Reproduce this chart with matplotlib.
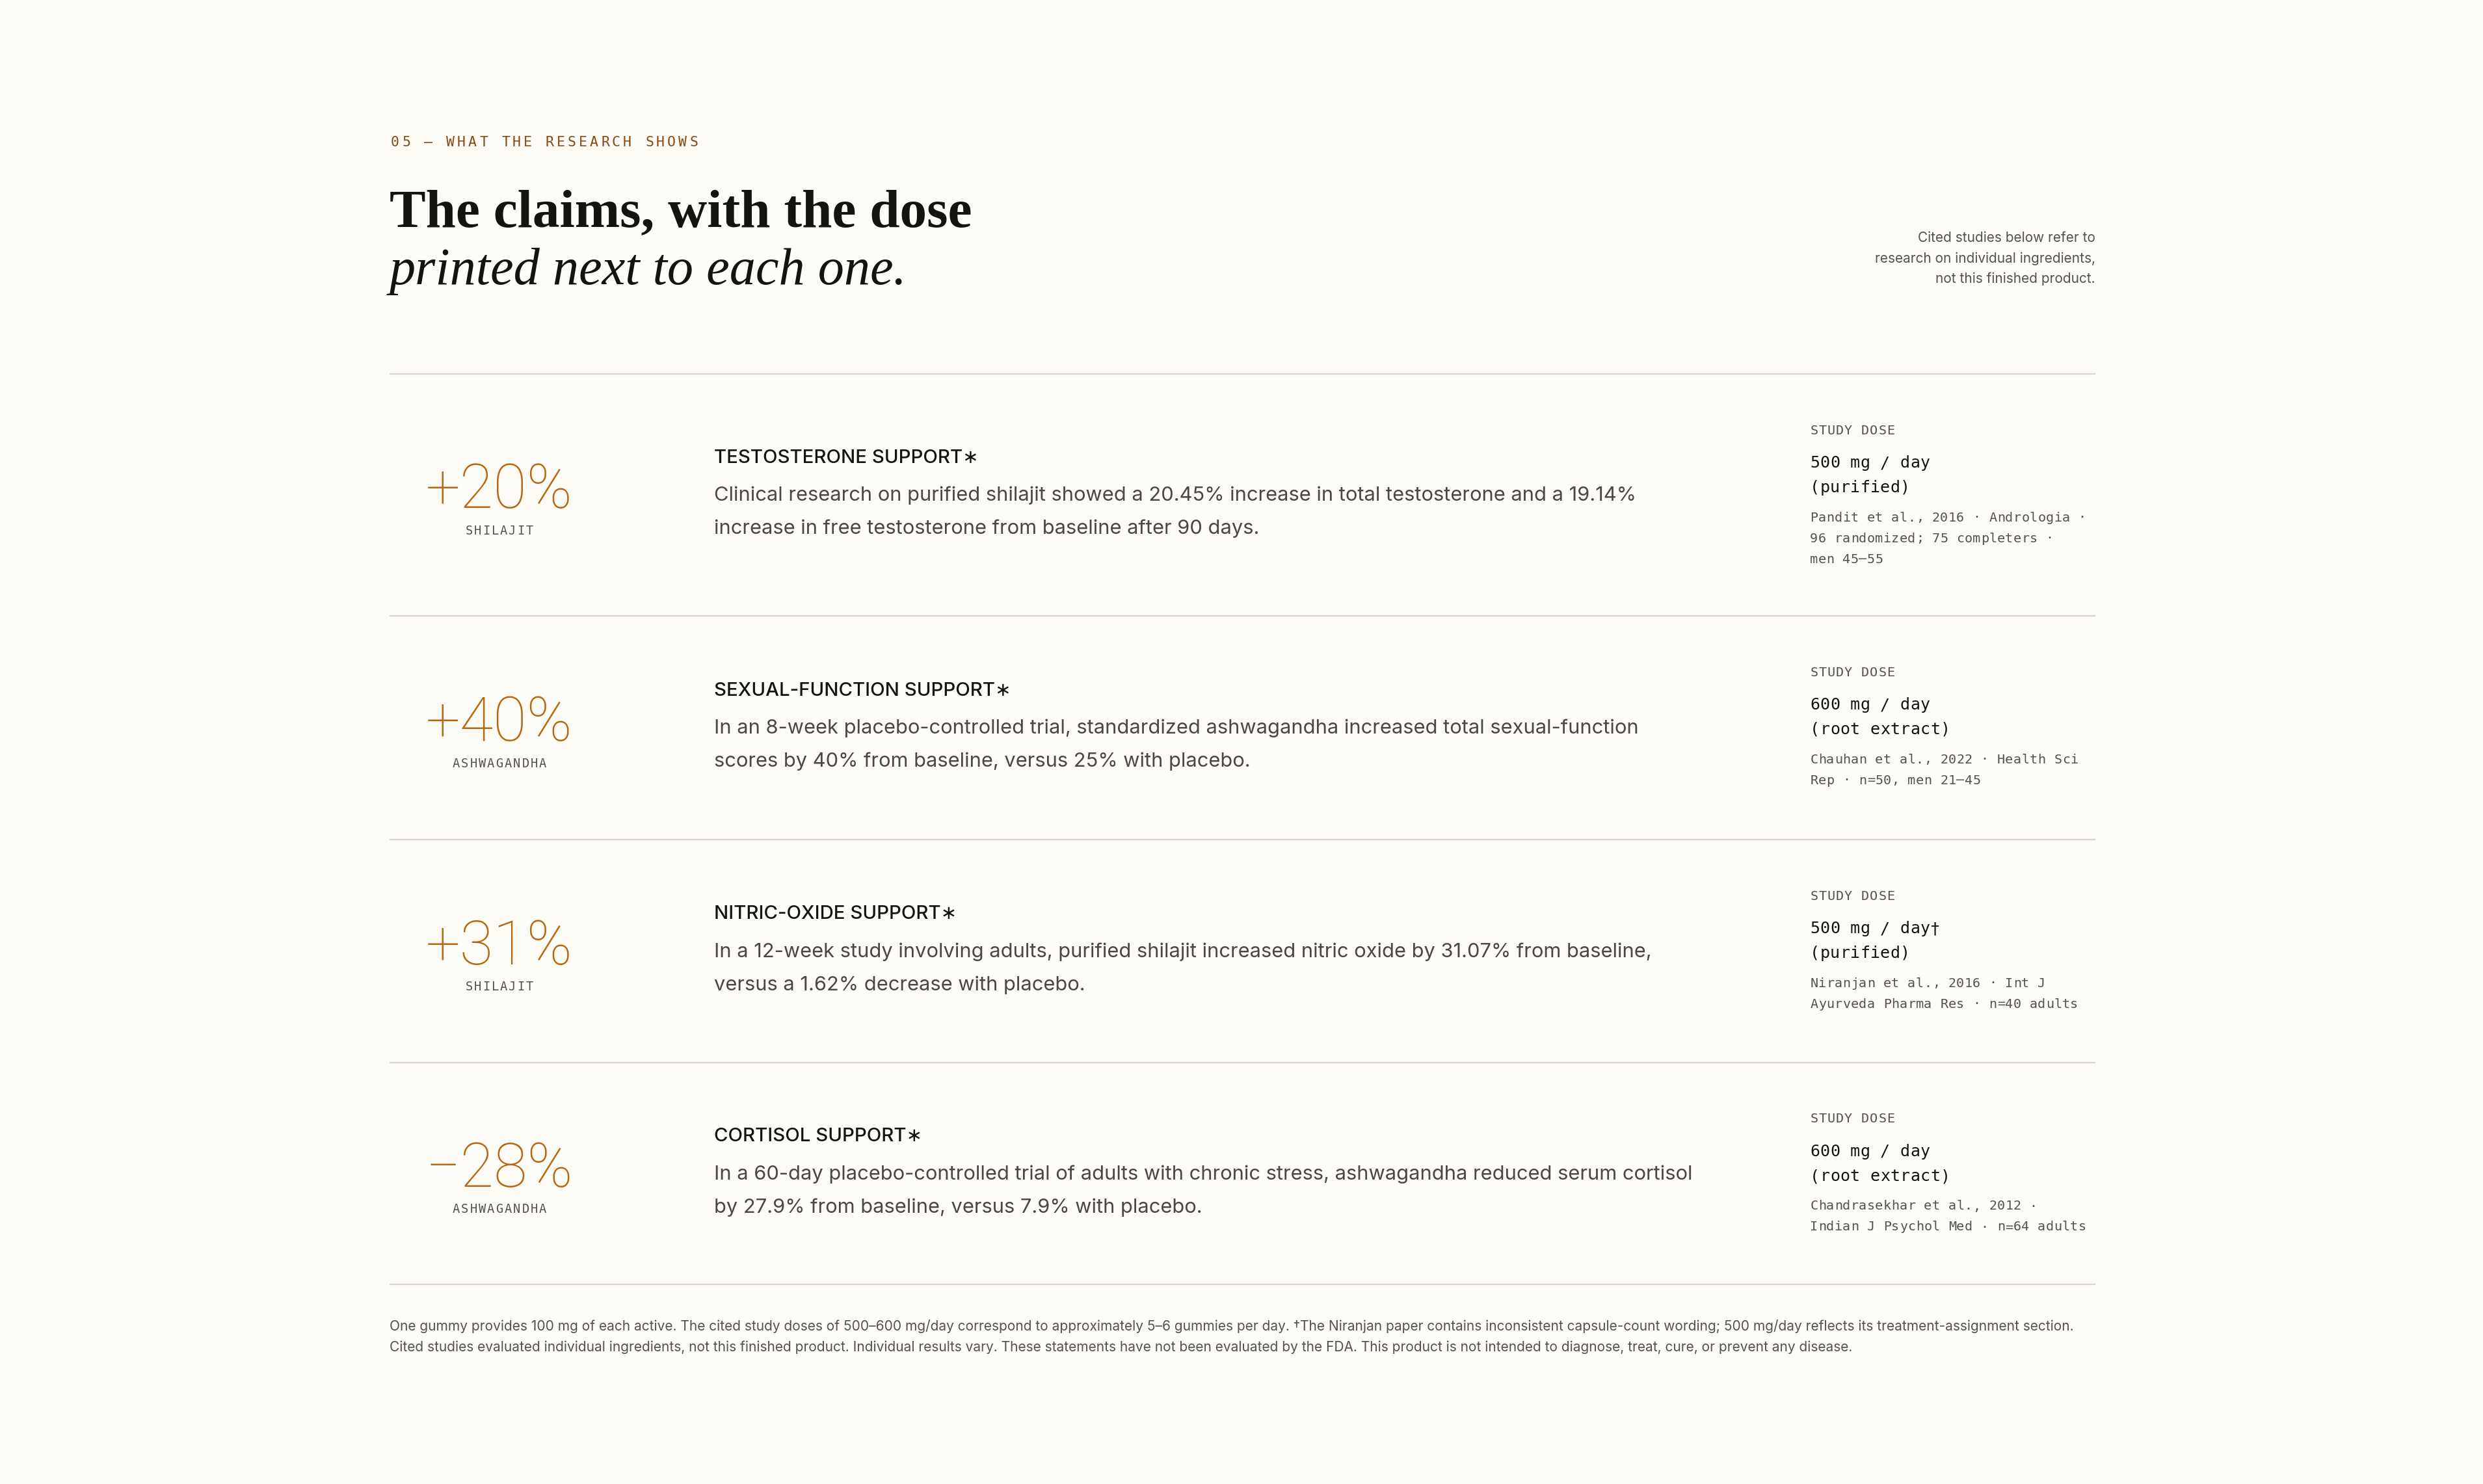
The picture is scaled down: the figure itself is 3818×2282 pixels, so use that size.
import matplotlib
matplotlib.use("Agg")
import matplotlib.pyplot as plt

# Content
eyebrow = "05 — WHAT THE RESEARCH SHOWS"
headline = "The claims, with the dose"
headline_it = "printed next to each one."
note_lines = ["Cited studies below refer to",
              "research on individual ingredients,",
              "not this finished product."]

stats = ["+20%", "+40%", "+31%", "−28%"]
ingredients = ["SHILAJIT", "ASHWAGANDHA", "SHILAJIT", "ASHWAGANDHA"]
claims = ["TESTOSTERONE SUPPORT∗", "SEXUAL-FUNCTION SUPPORT∗",
          "NITRIC-OXIDE SUPPORT∗", "CORTISOL SUPPORT∗"]
bodies = [
    ["Clinical research on purified shilajit showed a 20.45% increase in total testosterone and a 19.14%",
     "increase in free testosterone from baseline after 90 days."],
    ["In an 8-week placebo-controlled trial, standardized ashwagandha increased total sexual-function",
     "scores by 40% from baseline, versus 25% with placebo."],
    ["In a 12-week study involving adults, purified shilajit increased nitric oxide by 31.07% from baseline,",
     "versus a 1.62% decrease with placebo."],
    ["In a 60-day placebo-controlled trial of adults with chronic stress, ashwagandha reduced serum cortisol",
     "by 27.9% from baseline, versus 7.9% with placebo."],
]
doses = [["500 mg / day", "(purified)"],
         ["600 mg / day", "(root extract)"],
         ["500 mg / day†", "(purified)"],
         ["600 mg / day", "(root extract)"]]
sources = [["Pandit et al., 2016 · Andrologia ·", "96 randomized; 75 completers ·", "men 45–55"],
           ["Chauhan et al., 2022 · Health Sci", "Rep · n=50, men 21–45"],
           ["Niranjan et al., 2016 · Int J", "Ayurveda Pharma Res · n=40 adults"],
           ["Chandrasekhar et al., 2012 ·", "Indian J Psychol Med · n=64 adults"]]
footer = [
    "One gummy provides 100 mg of each active. The cited study doses of 500–600 mg/day correspond to approximately "
    "5–6 gummies per day. †The Niranjan paper contains inconsistent capsule-count wording; 500 mg/day reflects its "
    "treatment-assignment section.",
    "Cited studies evaluated individual ingredients, not this finished product. Individual results vary. These "
    "statements have not been evaluated by the FDA. This product is not intended to diagnose, treat, cure, or "
    "prevent any disease.",
]

# Layout (pixels, y down)
W, H = 3818, 2282
LEFT, RIGHT = 599, 3222
row_lines = [575, 947, 1291, 1634, 1975]

BG = "#fcfbf6"
AMBER = "#b8660f"
BROWN = "#8a4a12"
INK = "#141311"
BODY = "#4b4744"
GREY = "#55524f"
RULE = "#d9d6cf"

SANS = ["Inter", "DejaVu Sans"]
NUMS = ["Roboto", "Inter", "DejaVu Sans"]
MONO = ["DejaVu Sans Mono"]
SERIF = ["Liberation Serif", "DejaVu Serif"]

fig = plt.figure(figsize=(W / 100, H / 100), dpi=100)
fig.patch.set_facecolor(BG)
ax = fig.add_axes([0, 0, 1, 1])
ax.set_xlim(0, W)
ax.set_ylim(H, 0)
ax.axis("off")
renderer = fig.canvas.get_renderer()


def fit(t, width):
    bb = t.get_window_extent(renderer)
    t.set_fontsize(t.get_fontsize() * width / bb.width)
    return t.get_fontsize()


def measure(s, width, **kw):
    t = ax.text(W / 2, H / 2, s, **kw)
    size = fit(t, width)
    t.remove()
    return size


def mono(x, y, s, size, step, color, ha="left", weight="normal", va="center"):
    x0 = x - step * len(s) / 2 if ha == "center" else x
    for i, c in enumerate(s):
        ax.text(x0 + i * step + step / 2, y, c, ha="center", va=va,
                fontsize=size, family=MONO, color=color, weight=weight)


# Header
mono(LEFT, 225, eyebrow, 15.5, 17.0, BROWN, va="baseline")
t = ax.text(LEFT, 348, headline, family=SERIF, weight="bold", fontsize=50,
            color=INK, va="baseline")
fit(t, 896)
t = ax.text(LEFT, 437, headline_it, family=SERIF, style="italic", fontsize=50,
            color=INK, va="baseline")
fit(t, 796)

note_y = [366, 398, 429]
note_size = measure(note_lines[1], 339, family=SANS, fontsize=14)
for i, line in enumerate(note_lines):
    ax.text(RIGHT, note_y[i], line, family=SANS, fontsize=note_size,
            color=GREY, ha="right", va="center")

# Rules
ax.hlines(row_lines, LEFT, RIGHT, color=RULE, lw=1.6)

# Shared sizes
stat_size = measure(stats[0], 226, family=NUMS, weight="light", fontsize=60)
claim_size = measure(claims[0], 407, family=SANS, weight="medium", fontsize=20)
body_size = measure(bodies[0][0], 1415, family=SANS, fontsize=20)

NUM_X, MID_X, DOSE_X = 768, 1098, 2783

for i in range(4):
    top, bot = row_lines[i], row_lines[i + 1]
    cy = (top + bot) / 2
    ax.text(NUM_X, cy + 20, stats[i], family=NUMS, weight="light",
            fontsize=stat_size, color=AMBER, ha="center", va="baseline")
    mono(NUM_X, cy + 55, ingredients[i], 13.5, 13.3, GREY, ha="center")

    ax.text(MID_X, cy - 57, claims[i], family=SANS, weight="medium",
            fontsize=claim_size, color=INK, va="center")
    for j, line in enumerate(bodies[i]):
        ax.text(MID_X, cy + 1 + 51 * j, line, family=SANS, fontsize=body_size,
                color=BODY, va="center")

    y0 = top + 87
    mono(DOSE_X, y0, "STUDY DOSE", 14.5, 13.1, GREY)
    for j, line in enumerate(doses[i]):
        mono(DOSE_X, y0 + 50 + 38 * j, line, 18, 15.4, INK, weight="medium")
    for j, line in enumerate(sources[i]):
        mono(DOSE_X, y0 + 134 + 32 * j, line, 14.5, 12.5, GREY)

# Footer
foot_size = measure(footer[0], 2591, family=SANS, fontsize=12)
ax.text(LEFT, 2040, footer[0], family=SANS, fontsize=foot_size, color=GREY, va="center")
ax.text(LEFT, 2072, footer[1], family=SANS, fontsize=foot_size, color=GREY, va="center")

fig.savefig("out.png", dpi=100, facecolor=BG)
